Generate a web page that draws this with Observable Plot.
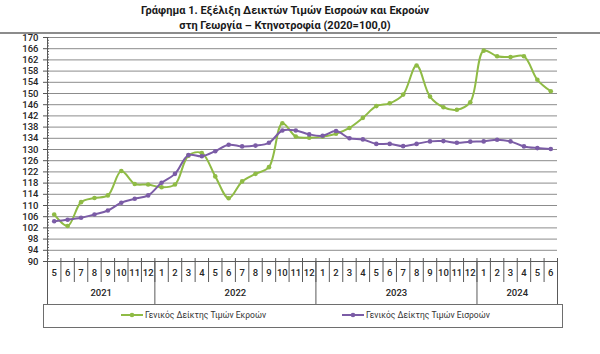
<!DOCTYPE html>
<html>
<head>
<meta charset="utf-8">
<script src="https://cdn.jsdelivr.net/npm/d3@7"></script>
<script src="https://cdn.jsdelivr.net/npm/@observablehq/plot@0.6"></script>
<style>
  html, body { margin: 0; padding: 0; background: #fff; }
  body { position: relative; width: 600px; height: 354px; overflow: hidden; font-family: Roboto, "Noto Sans", sans-serif; }
  #title { position: absolute; left: 0; top: 0; width: 570px; text-align: center; font-weight: bold; font-size: 11px; line-height: 15px; color: #1a1a1a; padding-top: 3px; }
  #rule { position: absolute; left: 0; top: 32px; width: 600px; height: 2px; background: #8c8c8c; }
  #chart { position: absolute; left: 0; top: 24px; }
  #legend { position: absolute; left: 43px; top: 304px; width: 518px; height: 22px; border: 1px solid #6e6e6e; font-size: 8.5px; color: #333; }
  .item { position: absolute; top: 5px; display: flex; align-items: center; gap: 2px; }
</style>
</head>
<body>
<div id="title">Γράφημα 1. Εξέλιξη Δεικτών Τιμών Εισροών και Εκροών<br>στη Γεωργία – Κτηνοτροφία (2020=100,0)</div>
<div id="rule"></div>
<div id="chart"></div>
<div id="legend"></div>
<script>
const months = ["5","6","7","8","9","10","11","12",
  "1","2","3","4","5","6","7","8","9","10","11","12",
  "1","2","3","4","5","6","7","8","9","10","11","12",
  "1","2","3","4","5","6"];
const years = ["2021","2022","2023","2024"];
const yearMonthCounts = [8, 12, 12, 6];
const outputsIndex = [106.8,102.7,111.2,112.7,113.6,122.3,117.7,117.5,
  116.5,117.5,127.8,128.7,120.4,112.6,118.6,121.3,123.7,139.4,134.6,134.2,
  134.6,135.6,137.7,141.3,145.5,146.5,149.6,160.0,148.9,145.1,144.2,146.9,
  165.3,163.3,163.0,163.3,154.9,150.8];
const inputsIndex = [104.4,104.9,105.6,106.8,108.2,111.0,112.4,113.6,
  118.1,121.3,128.0,127.6,129.4,131.7,131.1,131.4,132.4,136.8,136.8,135.4,
  134.9,136.6,134.0,133.6,132.0,132.0,131.2,132.0,132.9,133.0,132.4,132.8,
  132.9,133.5,132.9,131.1,130.5,130.2];
const yTicks = d3.range(90, 171, 4);
const seriesNames = ["Γενικός Δείκτης Τιμών Εκροών", "Γενικός Δείκτης Τιμών Εισροών"];
const colors = ["#8fbb45", "#7b5ca6"];

const data = months.map((m, i) => ({i, m, out: outputsIndex[i], inp: inputsIndex[i]}));
const monthBounds = d3.range(0, months.length + 1).map(k => k - 0.5);
let acc = 0;
const yearData = years.map((y, k) => {
  const start = acc; acc += yearMonthCounts[k];
  return {y, start: start - 0.5, end: acc - 0.5, c: (start + acc - 1) / 2};
});
const yearBounds = [yearData[0].start, ...yearData.map(d => d.end)];

const H = 280, MT = 13, MB = 43;
const plotH = H - MT - MB;

const chart = Plot.plot({
  width: 600, height: H,
  marginTop: MT, marginBottom: MB, marginLeft: 47, marginRight: 43,
  x: {type: "linear", domain: [-0.5, months.length - 0.5], axis: null},
  y: {domain: [90, 170], axis: null},
  style: {fontFamily: "Roboto, 'Noto Sans', sans-serif", fontSize: "9.5px", color: "#262626", background: "transparent"},
  marks: [
    Plot.ruleY(yTicks.filter(v => v > 90), {stroke: "#8c8c8c", strokeWidth: 1}),
    Plot.ruleY(d3.range(90, 171, 1), {insetRight: 510 - 2, stroke: "#666"}),
    Plot.axisY(yTicks, {tickSize: 4, tickPadding: 5, stroke: "#555", fill: "#262626", label: null, fontWeight: 500}),
    Plot.ruleX([-0.5], {stroke: "#595959"}),
    Plot.ruleY([90], {stroke: "#595959"}),
    Plot.ruleX(monthBounds, {x: d => d, insetTop: plotH - 3, stroke: "#595959"}),
    Plot.ruleX(monthBounds, {x: d => d, insetTop: plotH, insetBottom: -21, stroke: "#595959"}),
    Plot.ruleX(yearBounds, {x: d => d, insetTop: plotH, insetBottom: -MB, stroke: "#595959"}),
    Plot.text(data, {x: "i", text: "m", frameAnchor: "bottom", dy: 14, fill: "#262626", fontWeight: 500}),
    Plot.text(yearData, {x: "c", text: "y", frameAnchor: "bottom", dy: 34, fill: "#262626", fontWeight: 500}),
    Plot.line(data, {x: "i", y: "out", stroke: colors[0], strokeWidth: 2, curve: "catmull-rom"}),
    Plot.dot(data, {x: "i", y: "out", fill: colors[0], r: 2.3}),
    Plot.line(data, {x: "i", y: "inp", stroke: colors[1], strokeWidth: 2, curve: "catmull-rom"}),
    Plot.dot(data, {x: "i", y: "inp", fill: colors[1], r: 2.3})
  ]
});
document.getElementById("chart").appendChild(chart);

const legend = document.getElementById("legend");
const lefts = [77, 298];
seriesNames.forEach((name, k) => {
  const item = document.createElement("div");
  item.className = "item";
  item.style.left = lefts[k] + "px";
  item.innerHTML = `<svg width="22" height="8"><line x1="0" y1="4" x2="22" y2="4" stroke="${colors[k]}" stroke-width="2"/><circle cx="11" cy="4" r="2.3" fill="${colors[k]}"/></svg><span>${name}</span>`;
  legend.appendChild(item);
});
</script>
</body>
</html>
